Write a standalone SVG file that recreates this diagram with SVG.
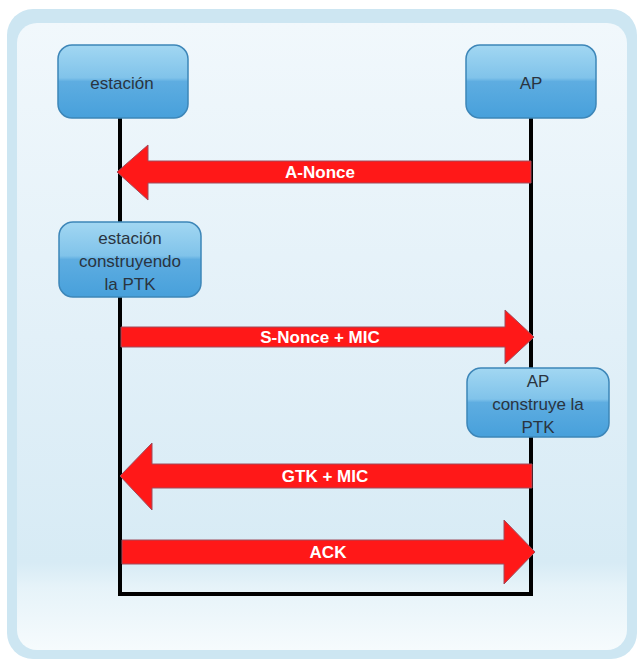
<svg xmlns="http://www.w3.org/2000/svg" width="642" height="662" viewBox="0 0 642 662">
<defs>
<linearGradient id="panel" x1="0" y1="0" x2="0" y2="1">
<stop offset="0" stop-color="#f1f8fc"/>
<stop offset="0.5" stop-color="#e2f0f8"/>
<stop offset="0.86" stop-color="#d7ebf5"/>
<stop offset="0.9" stop-color="#e6f3f9"/>
<stop offset="1" stop-color="#f6fbfd"/>
</linearGradient>
<linearGradient id="box" x1="0" y1="0" x2="0" y2="1">
<stop offset="0" stop-color="#a2d7f2"/>
<stop offset="0.45" stop-color="#80c3ea"/>
<stop offset="0.5" stop-color="#5eade1"/>
<stop offset="1" stop-color="#47a0db"/>
</linearGradient>
<style>
.node rect{fill:url(#box);stroke:#3d86b8;stroke-width:1.5}
.node text{font-family:"Liberation Sans",Arial,sans-serif;font-size:17px;fill:#2a3440;text-anchor:middle}
.arrow{fill:#ff1818;stroke:#a04a5a;stroke-width:1}
.lbl{font-family:"Liberation Sans",Arial,sans-serif;font-size:17px;font-weight:bold;fill:#ffffff;text-anchor:middle}
.life{stroke:#000;stroke-width:4;fill:none}
</style>
</defs>
<rect x="7" y="9" width="630" height="650" rx="26" fill="#cde6f2"/>
<rect x="17" y="23" width="610" height="627" rx="20" fill="url(#panel)"/>
<g id="connectors">
<path class="life" d="M120,118 V594 H531 V118"/>
<g id="msg-anonce">
<polygon class="arrow" points="117,172 148,145 148,161 531,161 531,183 148,183 148,200"/>
<text class="lbl" x="320" y="178">A-Nonce</text>
</g>
<g id="msg-snonce">
<polygon class="arrow" points="121,327 505,327 505,310 534,337 505,364 505,347 121,347"/>
<text class="lbl" x="320" y="343">S-Nonce + MIC</text>
</g>
<g id="msg-gtk">
<polygon class="arrow" points="120,476 152,443 152,464 532,464 532,488 152,488 152,510"/>
<text class="lbl" x="325" y="482">GTK + MIC</text>
</g>
<g id="msg-ack">
<polygon class="arrow" points="122,540 504,540 504,520 535,552 504,584 504,564 122,564"/>
<text class="lbl" x="328" y="558">ACK</text>
</g>
</g>
<g id="estacion" class="node">
<rect x="58" y="45" width="130" height="73" rx="14"/>
<text x="122" y="89">estación</text>
</g>
<g id="ap" class="node">
<rect x="466" y="45" width="130" height="73" rx="14"/>
<text x="531" y="89">AP</text>
</g>
<g id="estacion-ptk" class="node">
<rect x="59" y="222" width="142" height="75" rx="14"/>
<text x="130" y="244">estación</text>
<text x="130" y="267">construyendo</text>
<text x="130" y="290">la PTK</text>
</g>
<g id="ap-ptk" class="node">
<rect x="467" y="368" width="142" height="69" rx="14"/>
<text x="538" y="387">AP</text>
<text x="538" y="410">construye la</text>
<text x="538" y="433">PTK</text>
</g>
</svg>
